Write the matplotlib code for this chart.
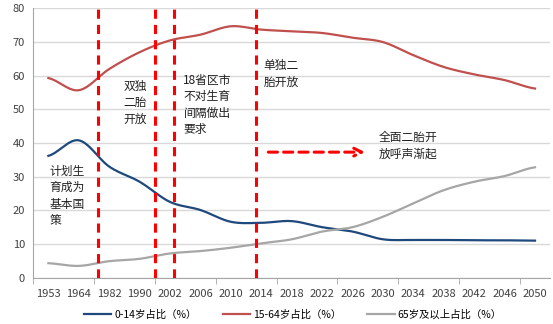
import numpy as np
import matplotlib.pyplot as plt
from matplotlib.lines import Line2D

plt.rcParams['font.family'] = ['Noto Sans CJK SC', 'DejaVu Sans']

years = ['1953', '1964', '1982', '1990', '2002', '2006', '2010', '2014', '2018',
         '2022', '2026', '2030', '2034', '2038', '2042', '2046', '2050']
child = [36.2, 40.8, 33.0, 28.5, 22.5, 20.1, 16.6, 16.3, 16.8,
         15.0, 13.7, 11.4, 11.2, 11.2, 11.1, 11.1, 11.0]
working = [59.3, 55.7, 62.0, 67.0, 70.5, 72.2, 74.7, 73.7, 73.2,
           72.7, 71.3, 70.0, 66.1, 62.6, 60.4, 58.7, 56.2]
elderly = [4.3, 3.5, 4.9, 5.6, 7.2, 7.9, 8.9, 10.2, 11.4,
           13.7, 15.0, 18.1, 22.1, 26.0, 28.5, 30.2, 32.8]
series_names = ['0-14岁占比（%）', '15-64岁占比（%）', '65岁及以上占比（%）']
colors = ['#1F497D', '#C0504D', '#A6A6A6']

policy_x = [1.64, 3.52, 4.14, 6.81]
notes = [
    (0.03, 33.6, '计划生\n育成为\n基本国\n策'),
    (2.47, 58.8, '双独\n二胎\n开放'),
    (4.44, 60.6, '18省区市\n不对生育\n间隔做出\n要求'),
    (7.07, 65.0, '单独二\n胎开放'),
    (10.86, 43.6, '全面二胎开\n放呼声渐起'),
]


def smooth(y, n=20):
    # catmull-rom style curve through the points, like excel "smoothed line"
    y = np.asarray(y, float)
    p = np.concatenate([[y[0]], y, [y[-1]]])
    xs, ys = [], []
    for i in range(len(y) - 1):
        p0, p1, p2, p3 = p[i], p[i + 1], p[i + 2], p[i + 3]
        t = np.linspace(0, 1, n, endpoint=False)
        yy = 0.5 * ((2 * p1) + (-p0 + p2) * t + (2 * p0 - 5 * p1 + 4 * p2 - p3) * t ** 2
                    + (-p0 + 3 * p1 - 3 * p2 + p3) * t ** 3)
        xs.append(i + t)
        ys.append(yy)
    xs.append([len(y) - 1])
    ys.append([y[-1]])
    return np.concatenate(xs), np.concatenate(ys)


fig = plt.figure(figsize=(5.53, 3.24), dpi=100)
ax = fig.add_axes([0.06, 0.143, 0.935, 0.831])

for data, c in zip([child, working, elderly], colors):
    sx, sy = smooth(data)
    ax.plot(sx, sy, color=c, lw=1.6, zorder=3)

for px in policy_x:
    ax.axvline(px, color='#FF0000', lw=2.2, ls=(0, (3, 2)), zorder=4)

for x, y, s in notes:
    ax.text(x, y, s, fontsize=8.5, color='#222222', va='top', ha='left',
            linespacing=1.35, zorder=5, fontweight='medium')

ax.annotate('', xy=(10.5, 37.3), xytext=(7.14, 37.3),
            arrowprops=dict(arrowstyle='->', color='#FF0000', lw=2.2,
                            ls=(0, (3, 2)), mutation_scale=14), zorder=5)

ax.set_xlim(-0.5, len(years) - 0.5)
ax.set_ylim(0, 80)
ax.set_yticks(range(0, 81, 10))
ax.set_xticks(range(len(years)))
ax.set_xticklabels(years)
ax.set_xticks(np.arange(-0.5, len(years), 2), minor=True)
ax.tick_params(axis='x', which='major', length=0, pad=8, labelsize=8, colors='#404040')
ax.tick_params(axis='x', which='minor', length=4, color='#A6A6A6')
ax.tick_params(axis='y', length=0, labelsize=8, colors='#404040', pad=6)
ax.grid(axis='y', color='#D9D9D9', lw=1)
ax.set_axisbelow(True)
for s in ['top', 'right']:
    ax.spines[s].set_visible(False)
for s in ['left', 'bottom']:
    ax.spines[s].set_color('#A6A6A6')

handles = [Line2D([0], [0], color=c, lw=1.6) for c in colors]
fig.legend(handles, series_names, loc='lower center', bbox_to_anchor=(0.53, -0.015),
           ncol=3, frameon=False, fontsize=7.5, handlelength=2.6, columnspacing=2.5,
           handletextpad=0.3)

fig.savefig('out.png', dpi=100)
